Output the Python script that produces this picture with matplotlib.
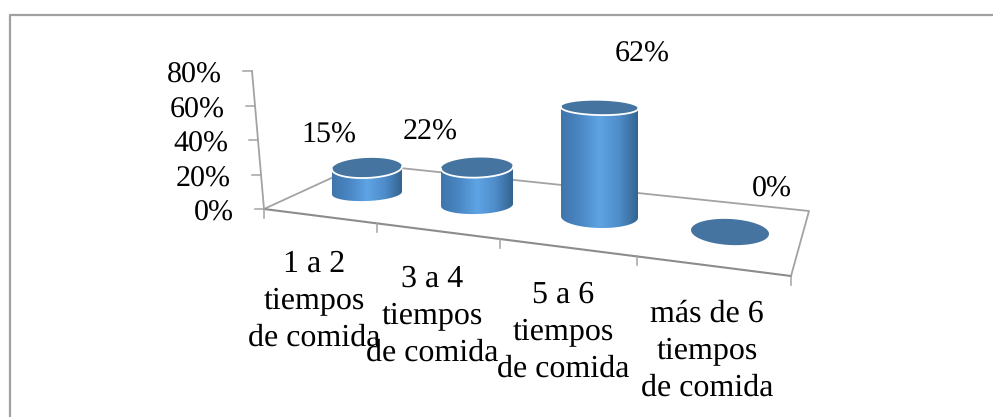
import numpy as np
import matplotlib
matplotlib.use("Agg")
import matplotlib.pyplot as plt
from matplotlib.colors import LinearSegmentedColormap
from matplotlib.patches import Polygon

plt.rcParams["text.hinting"] = "none"
plt.rcParams["text.hinting_factor"] = 1

# datos
categorias = ["1 a 2\ntiempos\nde comida", "3 a 4\ntiempos\nde comida",
              "5 a 6\ntiempos\nde comida", "más de 6\ntiempos\nde comida"]
valores = [15, 22, 62, 0]
ticks_y = [0, 20, 40, 60, 80]

# layout en pixeles de la imagen
base_x = [367, 477, 599.5, 730]
base_y = [193, 205, 217, 232]
radio_x = [35, 36, 38.5, 39]
radio_abajo = [8, 9, 11, 13]
radio_arriba = [10, 10, 7.2, 13]
inclinacion = [-0.04, -0.03, 0.02, 0.05]
px_por_valor = [1.67, 1.7, 1.76, 1.76]
piso = [(264, 209), (362, 164), (809, 211), (791, 276)]
ticks_frente = [0, 0.214, 0.448, 0.708, 1]
etiqueta_x = [314, 432, 563, 707]
etiqueta_y = [272, 287, 303, 322]
valor_x = [329, 430, 642, 772]
valor_y = [143, 140, 62, 197]
SALTO = 37

FONT = "Liberation Serif"
GRIS = "#a3a3a3"
W, H = 993, 417


def elipse(cx, cy, rx, ry, m, t):
    x = rx * np.cos(t)
    return cx + x, cy + ry * np.sin(t) + m * x


def dibuja_cilindro(ax, i, cmap):
    cx, cy, rx, m = base_x[i], base_y[i], radio_x[i], inclinacion[i]
    ry_b, ry_t = radio_abajo[i], radio_arriba[i]
    alto = valores[i] * px_por_valor[i]
    tope = cy - alto
    if alto > 0:
        # lado del cilindro con degradado
        xb, yb = elipse(cx, cy, rx, ry_b, m, np.linspace(0, np.pi, 60))
        xt, yt = elipse(cx, tope, rx, ry_t, m, np.linspace(np.pi, 0, 60))
        lado = Polygon(np.column_stack([np.r_[xb, xt], np.r_[yb, yt]]),
                       closed=True, fc="none", ec="none", transform=ax.transData)
        ax.add_patch(lado)
        grad = np.linspace(0, 1, 256).reshape(1, -1)
        im = ax.imshow(grad, cmap=cmap, aspect="auto", zorder=3,
                       extent=(cx - rx, cx + rx, cy + ry_b + 5, tope - ry_t - 5))
        im.set_clip_path(lado)
    xt, yt = elipse(cx, tope, rx, ry_t, m, np.linspace(0, 2 * np.pi, 120))
    ax.fill(xt, yt, color="#44749f", lw=0, zorder=4)
    if alto > 0:
        xr, yr = elipse(cx, tope, rx, ry_t, m, np.linspace(0, np.pi, 60))
        ax.plot(xr, yr, color="white", lw=1.3, zorder=5)


def main():
    fig = plt.figure(figsize=(W / 100, H / 100), dpi=100)
    ax = fig.add_axes([0, 0, 1, 1])
    ax.set_xlim(0, W)
    ax.set_ylim(H, 0)
    ax.axis("off")

    # borde del cuadro
    ax.plot([9.5, 9.5, W], [H, 14.5, 14.5], color="#a0a0a0", lw=1.6, zorder=1)

    # piso
    xs, ys = zip(*piso)
    ax.plot([xs[0], xs[1]], [ys[0], ys[1]], color=GRIS, lw=1.3, zorder=2)
    ax.plot([xs[1], xs[2], xs[3]], [ys[1], ys[2], ys[3]], color=GRIS, lw=1.3, zorder=2)
    ax.plot([xs[0], xs[3]], [ys[0], ys[3]], color="#8c8c8c", lw=1.5, zorder=2)
    for f in ticks_frente:
        tx = xs[0] + f * (xs[3] - xs[0])
        ty = ys[0] + f * (ys[3] - ys[0])
        ax.plot([tx, tx], [ty, ty + 9], color=GRIS, lw=1.1, zorder=2)

    # eje y
    for v in ticks_y:
        f = v / ticks_y[-1]
        tx = 264 - 12 * f
        ty = 209 - 138 * f
        ax.plot([tx - 9, tx], [ty, ty], color=GRIS, lw=1.1, zorder=2)
        ax.text(234 - 12 * f, ty + 12, "%d%%" % v, family=FONT, fontsize=21.5,
                ha="right", va="baseline", color="black")
    ax.plot([264, 252], [209, 71], color=GRIS, lw=1.3, zorder=2)

    cmap = LinearSegmentedColormap.from_list(
        "lado", ["#3f75ab", "#4a87c4", "#5fa4e4", "#4f8dcb", "#33648f"])
    for i in range(len(valores)):
        dibuja_cilindro(ax, i, cmap)
        ax.text(valor_x[i], valor_y[i], "%d%%" % valores[i], family=FONT, fontsize=21.5,
                ha="center", va="baseline", color="black", zorder=6)
        # cada renglon por separado para fijar el interlineado
        for j, linea in enumerate(categorias[i].split("\n")):
            ax.text(etiqueta_x[i], etiqueta_y[i] + j * SALTO, linea, family=FONT,
                    fontsize=22.8, ha="center", va="baseline", color="black", zorder=6)

    fig.savefig("out.png", dpi=100, facecolor="white")


if __name__ == "__main__":
    main()
